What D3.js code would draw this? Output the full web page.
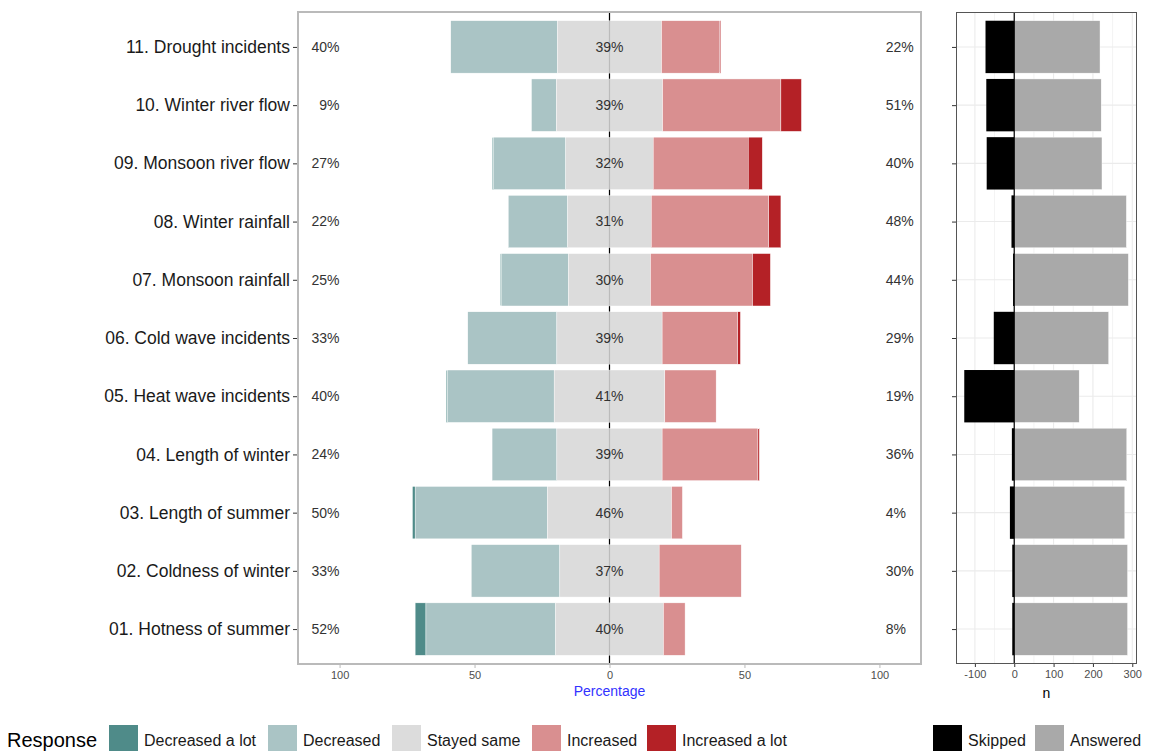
<!DOCTYPE html>
<html>
<head>
<meta charset="utf-8">
<script src="https://cdn.jsdelivr.net/npm/d3@7"></script>
<style>
  body { margin: 0; background: #fff; }
  text { font-family: "Liberation Sans", Arial, sans-serif; }
</style>
</head>
<body>
<div id="chart"></div>
<script>

// items, bottom to top
var items = ["01. Hotness of summer", "02. Coldness of winter", "03. Length of summer",
  "04. Length of winter", "05. Heat wave incidents", "06. Cold wave incidents",
  "07. Monsoon rainfall", "08. Winter rainfall", "09. Monsoon river flow",
  "10. Winter river flow", "11. Drought incidents"];

var responses = ["Decreased a lot", "Decreased", "Stayed same", "Increased", "Increased a lot"];

// percentages per response, same order as items
var decreasedALot = [4, 0, 1, 0, 0.5, 0, 0.5, 0, 0.5, 0, 0];
var decreased     = [48, 32.8, 49, 24, 39.5, 33, 24.7, 22, 26.7, 9.2, 39.5];
var stayedSame    = [40, 36.8, 46, 39, 41, 39, 30.4, 31, 32.4, 39.4, 38.6];
var increased     = [8, 30.4, 4, 35.5, 19, 28, 37.8, 43.5, 35.2, 43.8, 21.5];
var increasedALot = [0, 0, 0, 0.5, 0, 1, 6.6, 4.5, 5.2, 7.6, 0.4];

// counts
var skipped  = [5, 5, 11, 6, 127, 52, 3, 7, 70, 71, 73];
var answered = [288, 288, 281, 286, 165, 240, 290, 285, 223, 221, 218];

var pctTicks = [-100, -50, 0, 50, 100];
var nTicks = [-100, 0, 100, 200, 300];

var colors = ["#4f8b89", "#aac4c5", "#dcdcdc", "#d98f90", "#b42126"];
var nColors = {Skipped: "#000000", Answered: "#a9a9a9"};

var W = 1151, H = 751;
var svg = d3.select("#chart").append("svg")
    .attr("width", W).attr("height", H);
svg.append("rect").attr("width", W).attr("height", H).attr("fill", "#fff");

var plotTop = 12, plotBottom = 664;
var left1 = 298, right1 = 921;
var left2 = 956, right2 = 1137;

var y = d3.scalePoint().domain(items.slice().reverse()).range([plotTop, plotBottom]).padding(0.6);
var barH = y.step() * 0.9;

var x = d3.scaleLinear().domain([-115.4, 115.4]).range([left1, right1]);
var xn = d3.scaleLinear().domain([-148, 312]).range([left2, right2]);

// ---- left panel ----
var rows = items.map(function(name, i) {
  var vals = [decreasedALot[i], decreased[i], stayedSame[i], increased[i], increasedALot[i]];
  var start = -(vals[0] + vals[1] + vals[2] / 2);
  var segs = [];
  vals.forEach(function(v, k) {
    segs.push({k: k, name: name, x0: start, x1: start + v});
    start += v;
  });
  return {name: name, segs: segs,
    low: vals[0] + vals[1], mid: vals[2], high: vals[3] + vals[4]};
});

svg.append("line")
    .attr("x1", x(0)).attr("x2", x(0)).attr("y1", plotTop).attr("y2", plotBottom)
    .attr("stroke", "#000").attr("stroke-width", 1.2);

var g1 = svg.append("g");
g1.selectAll("g.row")
    .data(rows)
    .enter().append("g")
    .attr("class", "row")
    .selectAll("rect")
    .data(function(d) { return d.segs.filter(function(s) { return s.x1 - s.x0 > 0; }); })
    .enter().append("rect")
    .attr("x", function(s) { return x(s.x0); })
    .attr("width", function(s) { return x(s.x1) - x(s.x0); })
    .attr("y", function(s) { return y(s.name) - barH / 2; })
    .attr("height", barH)
    .attr("fill", function(s) { return colors[s.k]; })
    .attr("stroke", "#fff").attr("stroke-width", 0.4);

// zero line shows gray through the bars
svg.append("line")
    .attr("x1", x(0)).attr("x2", x(0)).attr("y1", plotTop).attr("y2", plotBottom)
    .attr("stroke", "#000").attr("stroke-opacity", 0.15).attr("stroke-width", 1.2);

function pct(v) { return Math.round(v) + "%"; }

g1.selectAll("text.low").data(rows).enter().append("text")
    .attr("x", x(-100)).attr("y", function(d) { return y(d.name); })
    .attr("dy", "0.35em").attr("text-anchor", "end")
    .attr("font-size", 14).attr("fill", "#333")
    .text(function(d) { return pct(d.low); });

g1.selectAll("text.mid").data(rows).enter().append("text")
    .attr("x", x(0)).attr("y", function(d) { return y(d.name); })
    .attr("dy", "0.35em").attr("text-anchor", "middle")
    .attr("font-size", 14).attr("fill", "#333")
    .text(function(d) { return pct(d.mid); });

g1.selectAll("text.high").data(rows).enter().append("text")
    .attr("x", x(102.3)).attr("y", function(d) { return y(d.name); })
    .attr("dy", "0.35em").attr("text-anchor", "start")
    .attr("font-size", 14).attr("fill", "#333")
    .text(function(d) { return pct(d.high); });

svg.append("rect")
    .attr("x", left1).attr("y", plotTop).attr("width", right1 - left1).attr("height", plotBottom - plotTop)
    .attr("fill", "none").attr("stroke", "#bababa").attr("stroke-width", 2);

// y axis labels
var yAxis = svg.append("g").attr("transform", "translate(" + (left1 - 1) + ",0)")
    .call(d3.axisLeft(y).tickSize(4).tickPadding(3));
yAxis.select(".domain").remove();
yAxis.selectAll("line").attr("stroke", "#333");
yAxis.selectAll("text").attr("font-size", 17.5).attr("fill", "#1a1a1a")
    .style("font-family", "Liberation Sans, Arial, sans-serif");

var xAxis = svg.append("g").attr("transform", "translate(0," + (plotBottom + 1) + ")")
    .call(d3.axisBottom(x).tickValues(pctTicks).tickSize(3).tickPadding(3)
      .tickFormat(function(d) { return String(Math.abs(d)); }));
xAxis.select(".domain").remove();
xAxis.selectAll("line").attr("stroke", "#bababa");
xAxis.selectAll("text").attr("font-size", 11).attr("fill", "#4d4d4d")
    .style("font-family", "Liberation Sans, Arial, sans-serif");

svg.append("text")
    .attr("x", (left1 + right1) / 2).attr("y", 696)
    .attr("text-anchor", "middle").attr("font-size", 14).attr("fill", "#3232ff")
    .text("Percentage");

// ---- right panel ----
var g2 = svg.append("g");
var grid = d3.range(-100, 301, 50);
g2.selectAll("line.grid").data(grid).enter().append("line")
    .attr("x1", function(d) { return xn(d); }).attr("x2", function(d) { return xn(d); })
    .attr("y1", plotTop).attr("y2", plotBottom)
    .attr("stroke", "#ebebeb").attr("stroke-width", function(d) { return d % 100 === 0 ? 1.1 : 0.6; });
g2.selectAll("line.hgrid").data(items).enter().append("line")
    .attr("x1", left2).attr("x2", right2)
    .attr("y1", function(d) { return y(d); }).attr("y2", function(d) { return y(d); })
    .attr("stroke", "#ebebeb").attr("stroke-width", 1.1);

var nrows = items.map(function(name, i) {
  return {name: name, skipped: skipped[i], answered: answered[i]};
});

g2.selectAll("rect.ans").data(nrows).enter().append("rect")
    .attr("x", xn(0)).attr("width", function(d) { return xn(d.answered) - xn(0); })
    .attr("y", function(d) { return y(d.name) - barH / 2; }).attr("height", barH)
    .attr("fill", nColors.Answered).attr("stroke", "#fff").attr("stroke-width", 0.4);

g2.selectAll("rect.skip").data(nrows).enter().append("rect")
    .attr("x", function(d) { return xn(-d.skipped); })
    .attr("width", function(d) { return xn(0) - xn(-d.skipped); })
    .attr("y", function(d) { return y(d.name) - barH / 2; }).attr("height", barH)
    .attr("fill", nColors.Skipped);

g2.append("line")
    .attr("x1", xn(0)).attr("x2", xn(0)).attr("y1", plotTop).attr("y2", plotBottom)
    .attr("stroke", "#000").attr("stroke-width", 1.2);

g2.append("rect")
    .attr("x", left2 + 0.5).attr("y", plotTop + 0.5)
    .attr("width", right2 - left2 - 1).attr("height", plotBottom - plotTop - 1)
    .attr("fill", "none").attr("stroke", "#555").attr("stroke-width", 1);

var yAxis2 = svg.append("g").attr("transform", "translate(" + left2 + ",0)")
    .call(d3.axisLeft(y).tickSize(4).tickFormat(""));
yAxis2.select(".domain").remove();
yAxis2.selectAll("line").attr("stroke", "#333");

var xAxis2 = svg.append("g").attr("transform", "translate(0," + plotBottom + ")")
    .call(d3.axisBottom(xn).tickValues(nTicks).tickSize(3).tickPadding(3).tickFormat(String));
xAxis2.select(".domain").remove();
xAxis2.selectAll("line").attr("stroke", "#333");
xAxis2.selectAll("text").attr("font-size", 11).attr("fill", "#4d4d4d")
    .style("font-family", "Liberation Sans, Arial, sans-serif");

svg.append("text")
    .attr("x", (left2 + right2) / 2).attr("y", 698)
    .attr("text-anchor", "middle").attr("font-size", 14).attr("fill", "#000")
    .text("n");

// ---- legends ----
var legY = 725, keyW = 29, keyH = 29, legText = 746;
svg.append("text").attr("x", 7).attr("y", legText + 1)
    .attr("font-size", 20).attr("fill", "#000").text("Response");

var legX = [109, 268, 392, 532, 647];
var leg = svg.selectAll("g.leg").data(responses).enter().append("g")
    .attr("transform", function(d, i) { return "translate(" + legX[i] + "," + legY + ")"; });
leg.append("rect").attr("width", keyW).attr("height", keyH)
    .attr("fill", function(d, i) { return colors[i]; });
leg.append("text").attr("x", keyW + 6).attr("y", legText - legY)
    .attr("font-size", 16).attr("fill", "#1a1a1a").text(function(d) { return d; });

var nLegX = [933, 1035];
var leg2 = svg.selectAll("g.leg2").data(["Skipped", "Answered"]).enter().append("g")
    .attr("transform", function(d, i) { return "translate(" + nLegX[i] + "," + legY + ")"; });
leg2.append("rect").attr("width", keyW).attr("height", keyH)
    .attr("fill", function(d) { return nColors[d]; });
leg2.append("text").attr("x", keyW + 6).attr("y", legText - legY)
    .attr("font-size", 16).attr("fill", "#1a1a1a").text(function(d) { return d; });

</script>
</body>
</html>
